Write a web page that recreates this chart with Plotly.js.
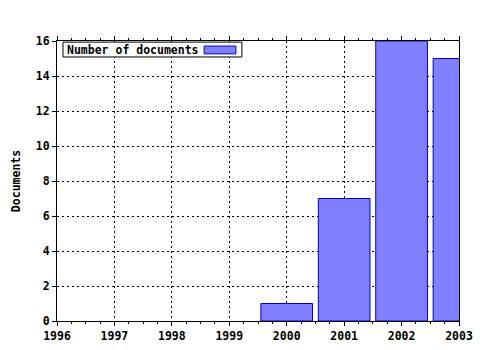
<!DOCTYPE html>
<html><head><meta charset="utf-8">
<script src="https://cdn.plot.ly/plotly-3.0.1.min.js"></script>
<style>html,body{margin:0;padding:0;background:#fff}#c{width:480px;height:350px}</style>
</head><body><div id="c"></div>
<script>
const years = [2000, 2001, 2002, 2003];
const documents = [1, 7, 16, 15];
const xTicks = [1996, 1997, 1998, 1999, 2000, 2001, 2002, 2003];
const yTicks = [0, 2, 4, 6, 8, 10, 12, 14, 16];
const seriesName = "Number of documents";

const font = {family: "DejaVu Sans Mono, monospace", size: 11.5, color: "#000", weight: "bold"};

const data = [{
  type: "bar", x: years, y: documents, name: seriesName, width: 0.9,
  marker: {color: "#8080ff", line: {color: "#0000c8", width: 1}},
  showlegend: false, cliponaxis: true
}];

const layout = {
  width: 480, height: 350,
  margin: {l: 57, r: 21, t: 41, b: 29},
  paper_bgcolor: "#fff", plot_bgcolor: "#fff",
  font: font,
  xaxis: {
    range: [1996, 2003], tickvals: xTicks, ticktext: xTicks.map(String),
    showgrid: true, gridcolor: "#000", griddash: "2px,3px", gridwidth: 1,
    showline: true, linecolor: "#000", linewidth: 1, mirror: "ticks",
    ticks: "outside", ticklen: 4, tickcolor: "#000",
    minor: {dtick: 0.25, ticks: "outside", ticklen: 2, tickcolor: "#000", showgrid: false},
    zeroline: false, tickfont: font
  },
  yaxis: {
    range: [0, 16], tickvals: yTicks,
    showgrid: true, gridcolor: "#000", griddash: "2px,3px", gridwidth: 1,
    showline: true, linecolor: "#000", linewidth: 1, mirror: true,
    ticks: "outside", ticklen: 4, tickcolor: "#000",
    zeroline: false, tickfont: font,
    title: {text: "Documents", font: font, standoff: 12}
  },
  shapes: [
    {type: "rect", xref: "paper", yref: "paper", x0: 0.0149, x1: 0.460, y0: 0.943, y1: 0.996,
     line: {color: "#000", width: 1}, fillcolor: "#fff", layer: "above"},
    {type: "rect", xref: "paper", yref: "paper", x0: 0.366, x1: 0.445, y0: 0.954, y1: 0.982,
     line: {color: "#0000c8", width: 1}, fillcolor: "#8080ff", layer: "above"}
  ],
  annotations: [
    {xref: "paper", yref: "paper", x: 0.019, y: 0.969, xanchor: "left", yanchor: "middle",
     text: seriesName, showarrow: false, font: font}
  ]
};

Plotly.newPlot("c", data, layout, {displayModeBar: false, staticPlot: true});
</script>
</body></html>
